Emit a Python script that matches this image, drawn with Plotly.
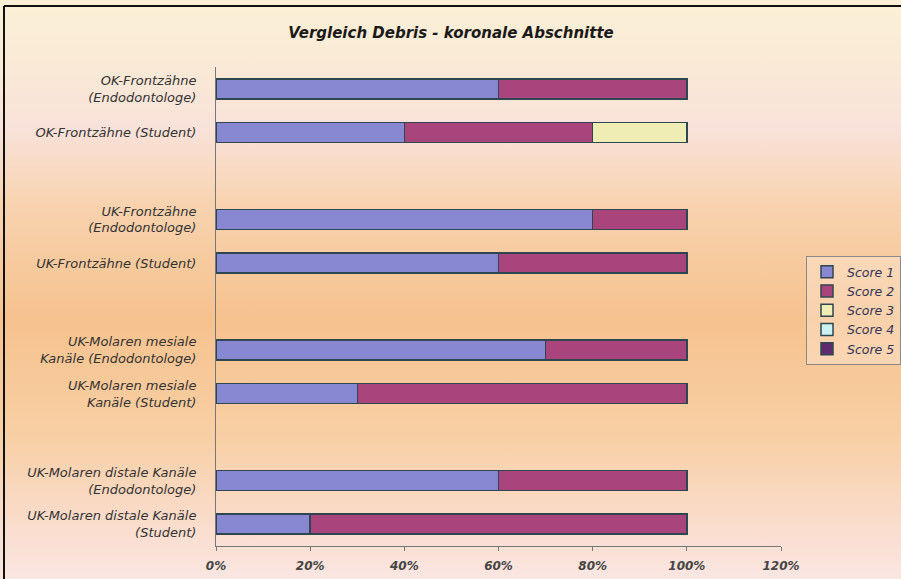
import base64
import plotly.graph_objects as go

# ---- data ----
categories = [
    "OK-Frontzähne<br>(Endodontologe)",
    "OK-Frontzähne (Student)",
    "UK-Frontzähne<br>(Endodontologe)",
    "UK-Frontzähne (Student)",
    "UK-Molaren mesiale<br>Kanäle (Endodontologe)",
    "UK-Molaren mesiale<br>Kanäle (Student)",
    "UK-Molaren distale Kanäle<br>(Endodontologe)",
    "UK-Molaren distale Kanäle<br>(Student)",
]
score1 = [0.60, 0.40, 0.80, 0.60, 0.70, 0.30, 0.60, 0.20]
score2 = [0.40, 0.40, 0.20, 0.40, 0.30, 0.70, 0.40, 0.80]
score3 = [0.00, 0.20, 0.00, 0.00, 0.00, 0.00, 0.00, 0.00]
score4 = [0.00, 0.00, 0.00, 0.00, 0.00, 0.00, 0.00, 0.00]
score5 = [0.00, 0.00, 0.00, 0.00, 0.00, 0.00, 0.00, 0.00]
series_names = ["Score 1", "Score 2", "Score 3", "Score 4", "Score 5"]
x_tickvals = [0, 0.2, 0.4, 0.6, 0.8, 1.0, 1.2]
x_ticktext = ["0%", "20%", "40%", "60%", "80%", "100%", "120%"]
title = "Vergleich Debris - koronale Abschnitte"

colors = ["#8787D2", "#A9457C", "#F0EDB4", "#CDF0F0", "#5E2C6E"]

# group positions: pairs separated by an empty slot
ypos = [i + i // 2 for i in range(len(categories))]

fig = go.Figure()
for name, vals, col in zip(series_names, [score1, score2, score3, score4, score5], colors):
    fig.add_trace(go.Bar(
        y=ypos, x=vals, name=name, orientation="h",
        marker=dict(color=col, line=dict(color="#2E4650", width=1.5)),
        width=0.46,
    ))

W, H = 901, 579
L, R, T, B = 216, 120, 67, 33
FONT = "DejaVu Sans, Verdana, sans-serif"

svg = f'''<svg xmlns="http://www.w3.org/2000/svg" width="{W}" height="{H}">
<defs><linearGradient id="g" x1="0" y1="0" x2="0" y2="1">
<stop offset="0" stop-color="#FBF0D6"/>
<stop offset="0.12" stop-color="#FAE9D6"/>
<stop offset="0.22" stop-color="#F9E2DA"/>
<stop offset="0.35" stop-color="#F8D3B0"/>
<stop offset="0.55" stop-color="#F6C28E"/>
<stop offset="0.75" stop-color="#F8CFA4"/>
<stop offset="0.9" stop-color="#FADCCB"/>
<stop offset="1" stop-color="#FAE6E2"/>
</linearGradient></defs>
<rect width="{W}" height="{H}" fill="url(#g)"/>
</svg>'''
uri = "data:image/svg+xml;base64," + base64.b64encode(svg.encode()).decode()

pw = W - L - R
ph = H - T - B
def px(x):
    return (x - L) / pw
def py(y):
    return 1 - (y - T) / ph

fig.update_layout(
    width=W, height=H,
    margin=dict(l=L, r=R, t=T, b=B, autoexpand=False),
    barmode="stack",
    paper_bgcolor="#F8D3B0",
    plot_bgcolor="rgba(0,0,0,0)",
    font=dict(family=FONT, color="#333333"),
    title=dict(text=title, x=451 / W, xanchor="center",
               y=1 - 33 / H, yanchor="middle",
               font=dict(size=15, color="#1a1a1a", weight="bold", style="italic", family=FONT)),
    images=[dict(source=uri, xref="paper", yref="paper", x=px(0), y=py(0),
                 sizex=W / pw, sizey=H / ph, sizing="stretch",
                 xanchor="left", yanchor="top", layer="below")],
    legend=dict(x=px(806), y=py(256), xanchor="left", yanchor="top",
                bgcolor="rgba(255,240,230,0.35)", bordercolor="#8a8a8a", borderwidth=1,
                font=dict(size=12.5, color="#333355", style="italic", family=FONT),
                itemwidth=30, tracegroupgap=0, traceorder="normal"),
    xaxis=dict(range=[0, 1.2], tickvals=x_tickvals, ticktext=x_ticktext,
               showgrid=False, zeroline=False, showline=True, linecolor="#777777", linewidth=1,
               ticks="outside", ticklen=4, tickcolor="#777777", ticklabelstandoff=5,
               tickfont=dict(size=12, color="#444444", weight="bold", style="italic", family=FONT)),
    yaxis=dict(range=[10.5, -0.5], tickvals=ypos, ticktext=categories,
               showgrid=False, zeroline=False, showline=True, linecolor="#777777", linewidth=1,
               ticks="", ticklabelstandoff=16,
               tickfont=dict(size=13, color="#333333", style="italic", family=FONT)),
    shapes=[
        dict(type="line", xref="paper", yref="paper", x0=px(4), x1=px(4), y0=py(6), y1=py(579),
             line=dict(color="#111111", width=2)),
        dict(type="line", xref="paper", yref="paper", x0=px(4), x1=px(901), y0=py(6), y1=py(6),
             line=dict(color="#111111", width=2)),
    ],
)

fig.write_html("out.html")
